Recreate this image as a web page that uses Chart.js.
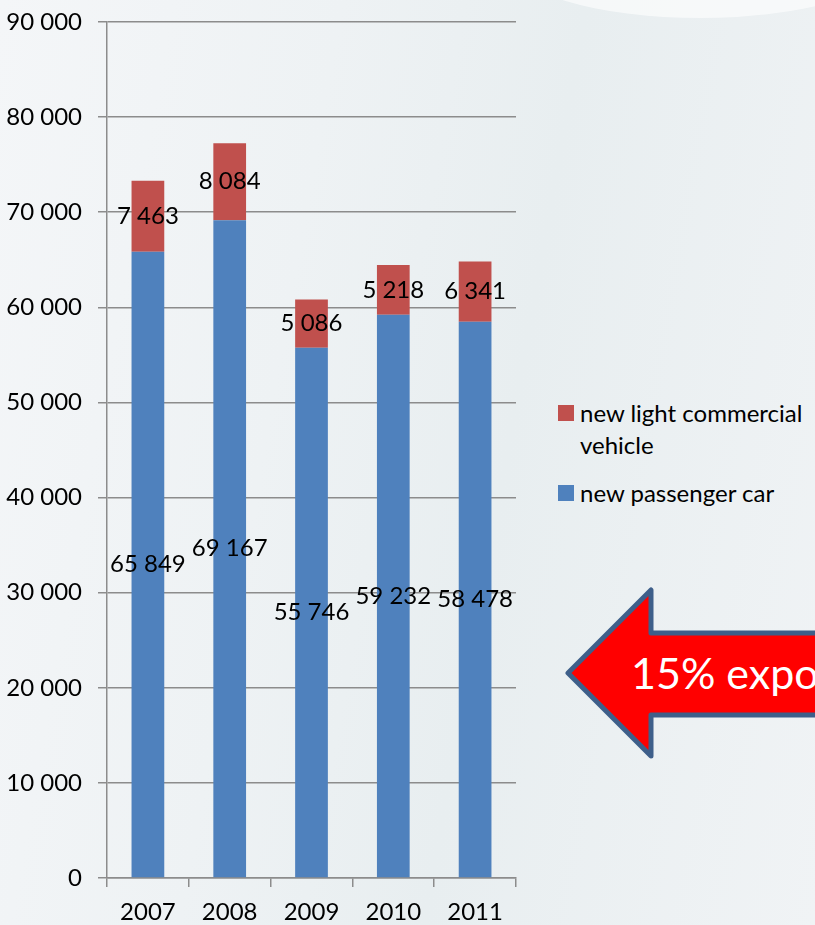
<!DOCTYPE html>
<html>
<head>
<meta charset="utf-8">
<script src="https://cdn.jsdelivr.net/npm/chart.js@4/dist/chart.umd.min.js"></script>
<style>
  html, body { margin: 0; padding: 0; }
  body {
    width: 815px; height: 925px; overflow: hidden; position: relative;
    background: linear-gradient(100deg, #f4f6f8 0%, #eef2f4 35%, #e8eef0 60%, #f0f3f5 100%);
    font-family: Lato, "Noto Sans", sans-serif;
  }
  #deco { position: absolute; left: 0; top: 0; }
  #wrap { position: absolute; left: 0; top: 0; width: 540px; height: 925px; }
  .legend { position: absolute; left: 558px; font-size: 24px; color: #000; line-height: 32px; white-space: nowrap; }
  .legend .sw { position: absolute; left: 0; top: 8px; width: 16px; height: 16px; }
  .legend .tx { margin-left: 22px; }
  #arrowText { position: absolute; left: 631px; top: 648px; color: #fff; font-size: 43px; line-height: 50px; white-space: nowrap; }
</style>
</head>
<body>
<svg id="deco" width="815" height="925">
  <ellipse cx="700" cy="-40" rx="190" ry="58" fill="#ffffff" opacity="0.6"/>
  <polygon points="568,673 651,590 651,633 830,633 830,715 651,715 651,756" fill="#ff0000" stroke="#3e5f8a" stroke-width="5" stroke-linejoin="round"/>
</svg>
<div id="wrap"><canvas id="chart"></canvas></div>
<div class="legend" style="top:397px;"><span class="sw" style="background:#c0504d"></span><div class="tx">new light commercial<br>vehicle</div></div>
<div class="legend" style="top:477px;"><span class="sw" style="background:#4f81bd"></span><div class="tx">new passenger car</div></div>
<div id="arrowText">15% export</div>
<script>
const years = ['2007', '2008', '2009', '2010', '2011'];
const passengerCar = [65849, 69167, 55746, 59232, 58478];
const lightCommercial = [7463, 8084, 5086, 5218, 6341];
const yTicks = [0, 10000, 20000, 30000, 40000, 50000, 60000, 70000, 80000, 90000];

const fmt = v => String(v).replace(/\B(?=(\d{3})+(?!\d))/g, ' ');

const barLabels = {
  id: 'barLabels',
  afterDatasetsDraw(chart) {
    const ctx = chart.ctx;
    ctx.save();
    ctx.font = '24px Lato, "Noto Sans", sans-serif';
    ctx.fillStyle = '#000';
    ctx.textAlign = 'center';
    ctx.textBaseline = 'middle';
    chart.data.datasets.forEach((ds, i) => {
      chart.getDatasetMeta(i).data.forEach((bar, j) => {
        const mid = (bar.y + bar.base) / 2;
        ctx.fillText(fmt(ds.data[j]), bar.x, mid);
      });
    });
    ctx.restore();
  }
};

new Chart(document.getElementById('chart'), {
  type: 'bar',
  data: {
    labels: years,
    datasets: [
      { label: 'new passenger car', data: passengerCar, backgroundColor: '#4f81bd', barPercentage: 0.5, categoryPercentage: 0.8 },
      { label: 'new light commercial vehicle', data: lightCommercial, backgroundColor: '#c0504d', barPercentage: 0.5, categoryPercentage: 0.8 }
    ]
  },
  options: {
    responsive: true,
    maintainAspectRatio: false,
    animation: false,
    layout: { padding: { top: 22, right: 24, left: 0, bottom: 0 } },
    plugins: { legend: { display: false }, tooltip: { enabled: false } },
    scales: {
      x: {
        stacked: true,
        grid: { drawOnChartArea: false, drawTicks: true, tickLength: 9, color: '#8c8c8c', lineWidth: 1.5 },
        border: { color: '#8c8c8c', width: 1.5 },
        ticks: { color: '#000', font: { size: 24, family: 'Lato' }, padding: 11 },
        afterFit: s => { s.height = 47; s.paddingLeft = 0; s.paddingRight = 0; }
      },
      y: {
        stacked: true,
        min: 0, max: 90000,
        afterBuildTicks: s => { s.ticks = yTicks.map(v => ({ value: v })); },
        grid: { color: '#8c8c8c', lineWidth: 1.5, tickLength: 9 },
        border: { color: '#8c8c8c', width: 1.5 },
        ticks: { color: '#000', font: { size: 24, family: 'Lato' }, padding: 16, callback: v => fmt(v) },
        afterFit: s => { s.width = 107; s.paddingTop = 0; s.paddingBottom = 0; }
      }
    }
  },
  plugins: [barLabels]
});
</script>
</body>
</html>
